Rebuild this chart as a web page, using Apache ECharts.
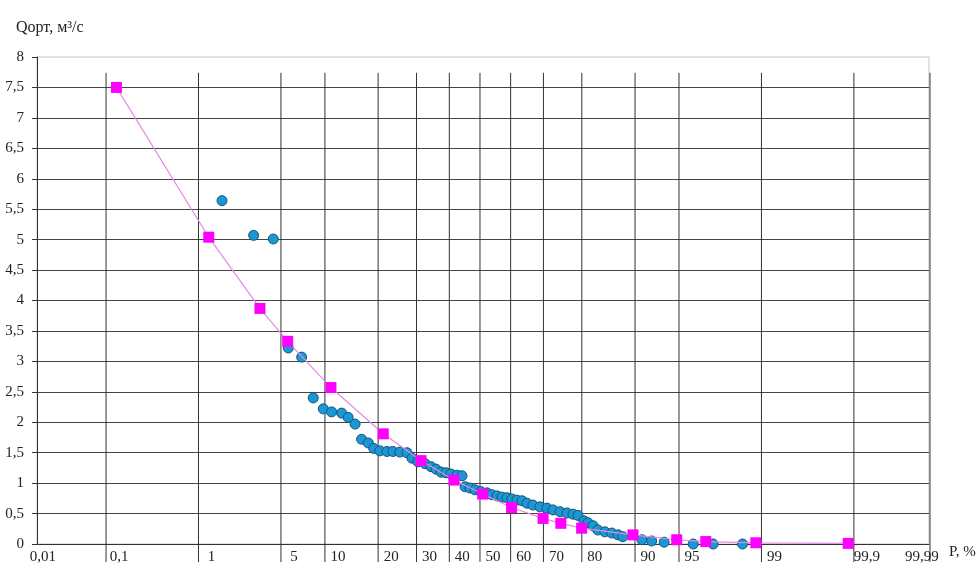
<!DOCTYPE html>
<html>
<head>
<meta charset="utf-8">
<script src="https://cdn.jsdelivr.net/npm/echarts@6/dist/echarts.min.js"></script>
<style>html,body{margin:0;padding:0;background:#fff}#c{width:980px;height:565px}</style>
</head>
<body>
<div id="c"></div>
<script>
// Probability-paper ticks (P, %) and their labels
var tickP = [0.01, 0.1, 1, 5, 10, 20, 30, 40, 50, 60, 70, 80, 90, 95, 99, 99.9, 99.99];
var tickLabels = ["0,01", "0,1", "1", "5", "10", "20", "30", "40", "50", "60", "70", "80", "90", "95", "99", "99,9", "99,99"];

// Observed values (blue circles): exceedance probability P, % and discharge Q, m3/s
var obsP = [1.65, 3.07, 4.38, 5.66, 7.03, 8.41, 9.77, 11.0, 12.65, 13.8, 15.1, 16.4, 17.8, 19.0, 20.4, 22.1, 23.6, 25.4, 27.3,
  28.7, 30.4, 32.5, 34.3, 35.8, 37.4, 38.9, 40.5, 42.5, 44.1, 45.1, 46.7, 48.4, 50.3, 52.3, 53.9, 55.6, 57.2, 58.8, 60.4,
  62.0, 63.6, 65.1, 66.9, 69.0, 71.0, 72.7, 74.6, 76.4, 77.9, 79.1, 80.5, 81.4, 82.5, 83.5, 84.9, 86.2, 87.3, 88.1,
  90.97, 92.2, 93.6, 96.1, 97.3, 98.5];
var obsQ = [5.64, 5.07, 5.01, 3.22, 3.07, 2.40, 2.22, 2.17, 2.15, 2.08, 1.97, 1.72, 1.66, 1.57, 1.53, 1.52, 1.52, 1.51, 1.50,
  1.41, 1.35, 1.32, 1.27, 1.23, 1.18, 1.17, 1.15, 1.13, 1.12, 0.94, 0.92, 0.89, 0.86, 0.84, 0.81, 0.79, 0.77, 0.76, 0.74,
  0.72, 0.71, 0.67, 0.64, 0.61, 0.59, 0.56, 0.53, 0.51, 0.49, 0.47, 0.38, 0.35, 0.30, 0.23, 0.20, 0.18, 0.15, 0.12,
  0.07, 0.05, 0.03, 0.00, 0.00, 0.00];

// Theoretical curve (magenta squares)
var theoP = [0.133, 1.25, 3.45, 5.6, 10.9, 21.2, 31.3, 41.5, 50.9, 60.3, 69.9, 74.8, 79.96, 89.7, 94.8, 96.9, 98.87, 99.883];
var theoQ = [7.5, 5.04, 3.87, 3.33, 2.57, 1.81, 1.37, 1.05, 0.82, 0.60, 0.42, 0.34, 0.26, 0.15, 0.07, 0.04, 0.02, 0.01];

// Inverse standard normal CDF (Acklam)
function qnorm(p) {
  var a = [-3.969683028665376e+01, 2.209460984245205e+02, -2.759285104469687e+02, 1.383577518672690e+02, -3.066479806614716e+01, 2.506628277459239e+00];
  var b = [-5.447609879822406e+01, 1.615858368580409e+02, -1.556989798598866e+02, 6.680131188771972e+01, -1.328068155288572e+01];
  var c = [-7.784894002430293e-03, -3.223964580411365e-01, -2.400758277161838e+00, -2.549732539343734e+00, 4.374664141464968e+00, 2.938163982698783e+00];
  var d = [7.784695709041462e-03, 3.224671290700398e-01, 2.445134137142996e+00, 3.754408661907416e+00];
  var plow = 0.02425, q, r;
  if (p < plow) {
    q = Math.sqrt(-2 * Math.log(p));
    return (((((c[0]*q+c[1])*q+c[2])*q+c[3])*q+c[4])*q+c[5]) / ((((d[0]*q+d[1])*q+d[2])*q+d[3])*q+1);
  } else if (p <= 1 - plow) {
    q = p - 0.5; r = q * q;
    return (((((a[0]*r+a[1])*r+a[2])*r+a[3])*r+a[4])*r+a[5])*q / (((((b[0]*r+b[1])*r+b[2])*r+b[3])*r+b[4])*r+1);
  } else {
    q = Math.sqrt(-2 * Math.log(1 - p));
    return -(((((c[0]*q+c[1])*q+c[2])*q+c[3])*q+c[4])*q+c[5]) / ((((d[0]*q+d[1])*q+d[2])*q+d[3])*q+1);
  }
}
function zOf(P) { return qnorm(P / 100); }

var obsData = obsP.map(function (p, i) { return [zOf(p), obsQ[i]]; });
var theoData = theoP.map(function (p, i) { return [zOf(p), theoQ[i]]; });
var tickData = tickP.map(function (p, i) { return [zOf(p), 0, i]; });

var SERIF = '"Liberation Serif", "DejaVu Serif", serif';
var chart = echarts.init(document.getElementById('c'), null, { renderer: 'canvas' });

chart.setOption({
  animation: false,
  backgroundColor: '#fff',
  title: {
    text: 'Qорт, м³/с', left: 11, top: 15,
    textStyle: { fontFamily: SERIF, fontSize: 16, fontWeight: 'normal', color: '#222' }
  },
  graphic: [{
    type: 'text', left: 949, top: 545,
    style: { text: 'P, %', font: '15px ' + SERIF, fill: '#222' }
  }],
  grid: { left: 37, right: 51, top: 57, bottom: 21, show: true, borderColor: '#c4c4c4', borderWidth: 1 },
  xAxis: {
    type: 'value', min: -3.661, max: 3.711,
    axisLine: { show: true, onZero: false, lineStyle: { color: '#333', width: 1 } },
    axisTick: { show: false }, axisLabel: { show: false }, splitLine: { show: false }
  },
  yAxis: {
    type: 'value', min: 0, max: 8, interval: 0.5,
    axisLine: { show: true, onZero: false, lineStyle: { color: '#333', width: 1 } },
    axisTick: { show: true, length: 5, lineStyle: { color: '#333' } },
    axisLabel: {
      margin: 13, fontFamily: SERIF, fontSize: 15, color: '#222',
      formatter: function (v) { return String(v).replace('.', ','); }
    },
    splitLine: { show: true, showMaxLine: false, lineStyle: { color: '#454545', width: 1 } }
  },
  series: [
    {
      type: 'custom', name: 'grid', z: 1, clip: false, silent: true,
      data: tickData,
      renderItem: function (params, api) {
        var z = api.value(0), idx = api.value(2);
        var bottom = api.coord([z, 0]);
        var top = api.coord([z, 7.74]);
        var children = [];
        var x = bottom[0];
        if (x > 38) {
          children.push({
            type: 'line',
            shape: { x1: x, y1: top[1], x2: x, y2: bottom[1] + 18 },
            style: { stroke: '#333', lineWidth: 1 }
          });
        }
        var last = idx === tickLabels.length - 1;
        children.push({
          type: 'text',
          style: {
            text: tickLabels[idx], x: last ? x - 8 : x + 13, y: bottom[1] + 13,
            align: 'center', verticalAlign: 'middle',
            font: '15px ' + SERIF, fill: '#222'
          }
        });
        return { type: 'group', children: children };
      }
    },
    {
      type: 'scatter', name: 'obs', z: 3,
      data: obsData, symbol: 'circle', symbolSize: 10,
      itemStyle: { color: '#1b98d4', borderColor: '#16547c', borderWidth: 1, opacity: 1 }
    },
    {
      type: 'line', name: 'theory', z: 4,
      data: theoData, symbol: 'rect', symbolSize: 11, showAllSymbol: true,
      lineStyle: { color: '#e48ae4', width: 1.2 },
      itemStyle: { color: '#ff00ff', opacity: 1 }
    }
  ]
});
</script>
</body>
</html>
